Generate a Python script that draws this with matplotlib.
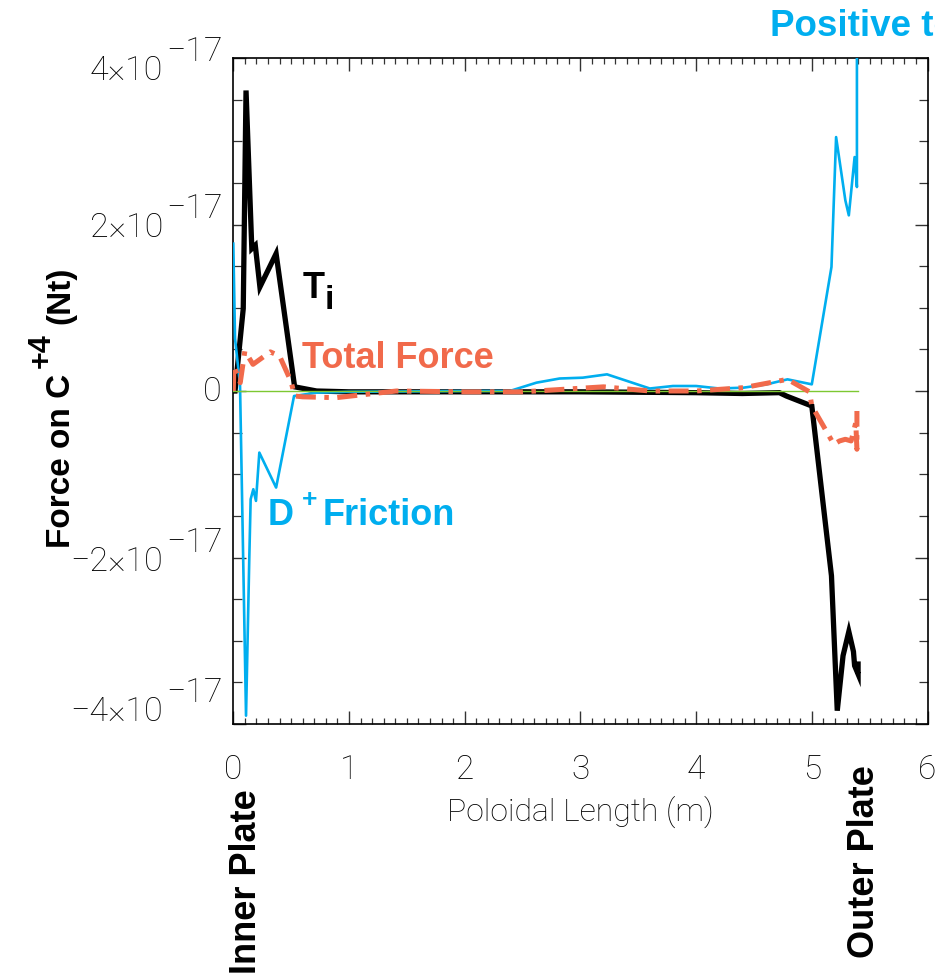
import matplotlib
matplotlib.use("Agg")
import matplotlib.pyplot as plt
from matplotlib.ticker import MultipleLocator
import matplotlib.transforms as mtransforms

# ---- data (poloidal length in m, forces in units of 1e-17 N) ----
ti_x = [0.0, 0.015, 0.086, 0.11, 0.16, 0.19, 0.23, 0.37, 0.53, 0.72, 1.0, 2.0,
        3.0, 4.0, 4.4, 4.72, 4.78, 5.0, 5.17, 5.22, 5.27, 5.32, 5.36, 5.37, 5.40, 5.40]
ti_y = [0.0, 0.0, 0.99, 3.61, 1.71, 1.75, 1.25, 1.65, 0.05, 0.0, -0.01, -0.01,
        -0.01, -0.02, -0.03, -0.02, -0.06, -0.18, -2.22, -3.84, -3.18, -2.89,
        -3.13, -3.30, -3.40, -3.28]

fric_x = [0.0, 0.015, 0.058, 0.11, 0.138, 0.15, 0.173, 0.196, 0.225, 0.37, 0.525,
          0.72, 1.0, 2.0, 2.39, 2.62, 2.82, 3.02, 3.23, 3.60, 3.80, 4.0, 4.2,
          4.41, 4.61, 4.79, 5.0, 5.17, 5.21, 5.29, 5.32, 5.37, 5.39, 5.39]
fric_y = [1.77, 0.63, 0.08, -3.9, -2.02, -1.30, -1.18, -1.32, -0.74, -1.16, -0.06,
          -0.02, -0.01, 0.0, 0.0, 0.10, 0.15, 0.16, 0.20, 0.03, 0.06, 0.06, 0.03,
          0.04, 0.08, 0.14, 0.08, 1.49, 3.05, 2.29, 2.11, 2.81, 2.45, 5.0]

tot_x = [0.0, 0.005, 0.06, 0.10, 0.17, 0.32, 0.40, 0.50, 0.53, 0.60, 0.89, 1.41,
         2.0, 2.5, 3.2, 3.6, 4.0, 4.41, 4.79, 4.98, 5.0, 5.1, 5.19, 5.24, 5.29,
         5.34, 5.38, 5.39, 5.39]
tot_y = [0.0, 0.30, 0.10, 0.48, 0.32, 0.47, 0.42, 0.11, -0.06, -0.07, -0.08, 0.0,
         -0.01, -0.01, 0.05, 0.0, 0.0, 0.04, 0.14, -0.01, -0.18, -0.42, -0.64,
         -0.60, -0.58, -0.60, -0.38, -0.70, -0.24]

zero_x = [0.0, 5.40]
zero_y = [0.0, 0.0]

ytick_vals = [4, 2, 0, -2, -4]
ytick_main = ["4×10", "2×10", "0", "−2×10", "−4×10"]
ytick_sup = ["−17", "−17", "", "−17", "−17"]
xtick_vals = [0, 1, 2, 3, 4, 5, 6]

CYAN = "#00AEEF"
CORAL = "#F16A4B"
GREEN = "#7DC832"
THIN = dict(family="Roboto", weight="light")
BOLD = dict(family="Liberation Sans", weight="bold")

W, H = 935, 979
fig = plt.figure(figsize=(W / 100, H / 100), dpi=100)
ax = fig.add_axes([233.3 / W, 1 - 725 / H, 694.2 / W, 666 / H])

scale = 1e-17
ax.plot(ti_x, [v * scale for v in ti_y], color="black", lw=3.8, zorder=2,
        solid_joinstyle="miter")
ax.plot(fric_x, [v * scale for v in fric_y], color=CYAN, lw=1.9, zorder=3)
ax.plot(zero_x, zero_y, color=GREEN, lw=1.0, zorder=4)
ax.plot(tot_x, [v * scale for v in tot_y], color=CORAL, lw=3.6, zorder=5,
        linestyle=(0, (4, 1.7, 0.9, 1.7)))

ax.set_xlim(0, 6)
ax.set_ylim(-4e-17, 4e-17)

ax.xaxis.set_major_locator(MultipleLocator(1))
ax.xaxis.set_minor_locator(MultipleLocator(0.1))
ax.yaxis.set_major_locator(MultipleLocator(2e-17))
ax.yaxis.set_minor_locator(MultipleLocator(0.5e-17))
ax.tick_params(which="both", direction="in", top=True, right=True, color="#333333")
ax.tick_params(axis="x", which="major", length=9.5, width=1.0)
ax.tick_params(axis="x", which="minor", length=4.5, width=0.9)
ax.tick_params(axis="y", which="major", length=9.5, width=1.0)
ax.tick_params(axis="y", which="minor", length=6.5, width=0.9)
ax.tick_params(axis="x", which="major", pad=21)
ax.set_xticks(xtick_vals)
ax.set_xticklabels([str(v) for v in xtick_vals], fontdict=dict(size=24, **THIN))
ax.set_yticklabels([])
for sp in ax.spines.values():
    sp.set_linewidth(1.2)
    sp.set_color("black")

# y tick labels: mantissa plus raised exponent
ytrans = mtransforms.blended_transform_factory(ax.transAxes, ax.transData)
shifts = [-12, -2, 0, -3, 13]  # vertical nudge in px
for v, m, s, dy in zip(ytick_vals, ytick_main, ytick_sup, shifts):
    base = mtransforms.offset_copy(ytrans, fig=fig, x=0, y=dy * 0.72, units="points")
    if s:
        ax.text(0, v * scale, m, transform=mtransforms.offset_copy(
            base, fig=fig, x=-70 * 0.72, y=0, units="points"),
            ha="right", va="center", size=24.5, **THIN)
        ax.text(0, v * scale, s, transform=mtransforms.offset_copy(
            base, fig=fig, x=-11 * 0.72, y=19 * 0.72, units="points"),
            ha="right", va="center", size=24.5, **THIN)
    else:
        ax.text(0, v * scale, m, transform=mtransforms.offset_copy(
            base, fig=fig, x=-12 * 0.72, y=0, units="points"),
            ha="right", va="center", size=24.5, **THIN)

fig.text(580 / W, 1 - 812 / H, "Poloidal Length (m)", ha="center", va="center",
         size=23, **THIN)

# y-axis title with a full-size raised charge state
fig.text(61 / W, 1 - 461 / H, "Force on C", rotation=90, ha="center",
         va="center", size=24, **BOLD)
fig.text(42 / W, 1 - 351 / H, "+4", rotation=90, ha="center",
         va="center", size=22, **BOLD)
fig.text(61 / W, 1 - 295 / H, "(Nt)", rotation=90, ha="center",
         va="center", size=24, **BOLD)

# curve labels
ax.text(0.100, 0.641, "T", transform=ax.transAxes, ha="left",
        va="baseline", size=26, color="black", **BOLD)
ax.text(0.131, 0.624, "i", transform=ax.transAxes, ha="left",
        va="baseline", size=24, color="black", **BOLD)
ax.text(0.099, 0.536, "Total Force", transform=ax.transAxes, ha="left",
        va="baseline", size=26, color=CORAL, **BOLD)
ax.text(0.050, 0.300, "D", transform=ax.transAxes, ha="left",
        va="baseline", size=26, color=CYAN, **BOLD)
ax.text(0.099, 0.327, "+", transform=ax.transAxes, ha="left",
        va="baseline", size=19, color=CYAN, **BOLD)
ax.text(0.128, 0.300, "Friction", transform=ax.transAxes, ha="left",
        va="baseline", size=26, color=CYAN, **BOLD)

fig.text(246 / W, 1 - 882 / H, "Inner Plate", rotation=90, ha="center",
         va="center", size=26, **BOLD)
fig.text(865 / W, 1 - 862 / H, "Outer Plate", rotation=90, ha="center",
         va="center", size=26, **BOLD)
fig.text(770 / W, 1 - 27 / H, "Positive towards outer plate", ha="left",
         va="center", size=26.5, color=CYAN, **BOLD)

fig.savefig("out.png", dpi=100)
